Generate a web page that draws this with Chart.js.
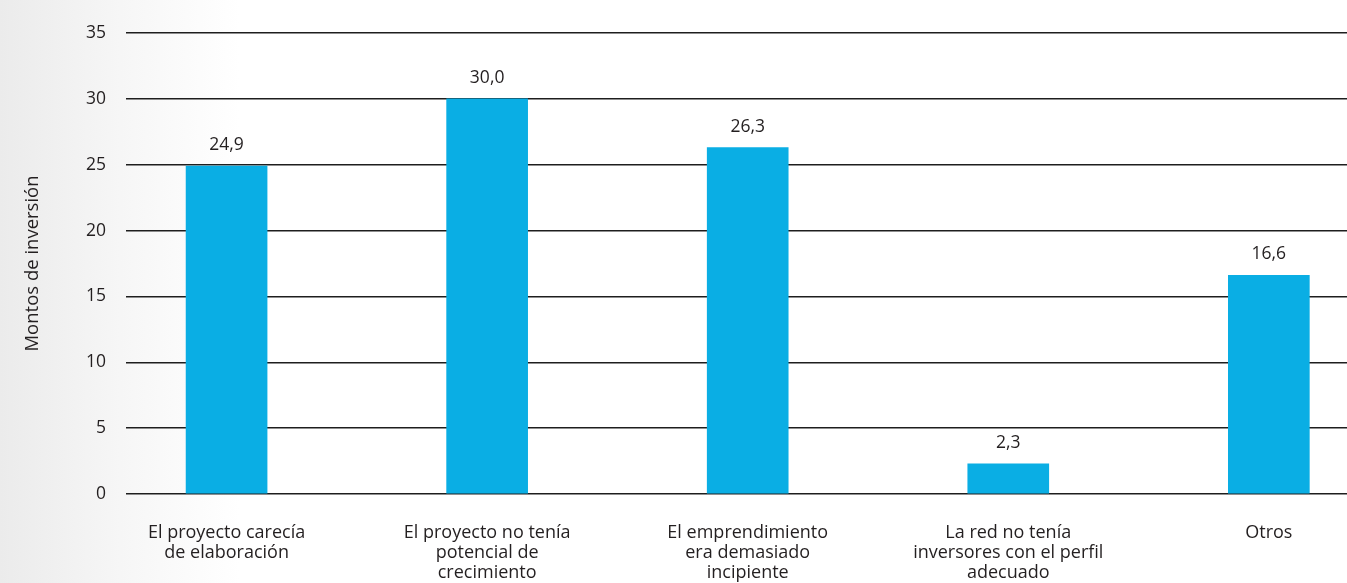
<!DOCTYPE html>
<html lang="es">
<head>
<meta charset="utf-8">
<title>Montos de inversión</title>
<script src="https://cdn.jsdelivr.net/npm/chart.js@4/dist/chart.umd.min.js"></script>
<style>
  html, body { margin: 0; padding: 0; overflow: hidden; }
  body {
    width: 1347px;
    height: 583px;
    background: linear-gradient(to right, #ebebeb 0px, #f6f6f6 120px, #ffffff 240px);
  }
  #wrap { position: relative; width: 1347px; height: 600px; }
</style>
</head>
<body>
<div id="wrap"><canvas id="grafico"></canvas></div>
<script>
// Datos
const categorias = [
  ["El proyecto carecía", "de elaboración"],
  ["El proyecto no tenía", "potencial de", "crecimiento"],
  ["El emprendimiento", "era demasiado", "incipiente"],
  ["La red no tenía", "inversores con el perfil", "adecuado"],
  ["Otros"],
];
const montos = [24.9, 30.0, 26.3, 2.3, 16.6];
const ticksY = [0, 5, 10, 15, 20, 25, 30, 35];

const azul = "#0aaee4";
const texto = "#231f20";
const fuente = "'Open Sans', 'Noto Sans', sans-serif";

// Etiquetas de valor sobre cada barra, con coma decimal
const etiquetasValor = {
  id: "etiquetasValor",
  afterDatasetsDraw(chart) {
    const ctx = chart.ctx;
    const meta = chart.getDatasetMeta(0);
    ctx.save();
    ctx.font = "17.5px " + fuente;
    ctx.fillStyle = texto;
    ctx.textAlign = "center";
    ctx.textBaseline = "alphabetic";
    meta.data.forEach((barra, i) => {
      const txt = montos[i].toFixed(1).replace(".", ",");
      ctx.fillText(txt, barra.x, barra.y - 16);
    });
    ctx.restore();
  },
};

const ctx = document.getElementById("grafico").getContext("2d");
new Chart(ctx, {
  type: "bar",
  data: {
    datasets: [{
      data: montos.map((v, i) => ({ x: i, y: v })),
      backgroundColor: azul,
      borderWidth: 0,
      barThickness: 81,
    }],
  },
  options: {
    responsive: true,
    maintainAspectRatio: false,
    animation: false,
    layout: { padding: { top: 33, left: 0, right: 0, bottom: 0 } },
    plugins: {
      legend: { display: false },
      tooltip: { enabled: false },
    },
    scales: {
      x: {
        type: "linear",
        offset: false,
        min: -0.386,
        max: 4.3,
        grid: { display: false, drawTicks: false },
        border: { display: false },
        afterBuildTicks: (s) => { s.ticks = categorias.map((_, i) => ({ value: i })); },
        afterFit: (s) => { s.height = 106; },
        ticks: {
          padding: 29,
          maxRotation: 0,
          autoSkip: false,
          color: texto,
          font: { size: 18, family: fuente, lineHeight: 1.1 },
          callback: (v) => categorias[v] || "",
        },
      },
      y: {
        min: 0,
        max: 35,
        afterBuildTicks: (s) => { s.ticks = ticksY.map((v) => ({ value: v })); },
        afterFit: (s) => { s.width = 126; },
        grid: { color: "#1e1e1e", lineWidth: 1.5, drawTicks: false },
        border: { display: false },
        ticks: {
          padding: 20,
          color: texto,
          font: { size: 17.5, family: fuente },
        },
        title: {
          display: true,
          text: "Montos de inversión",
          color: texto,
          font: { size: 18.5, family: fuente },
          padding: { top: 22, bottom: 0 },
        },
      },
    },
  },
  plugins: [etiquetasValor],
});
</script>
</body>
</html>
